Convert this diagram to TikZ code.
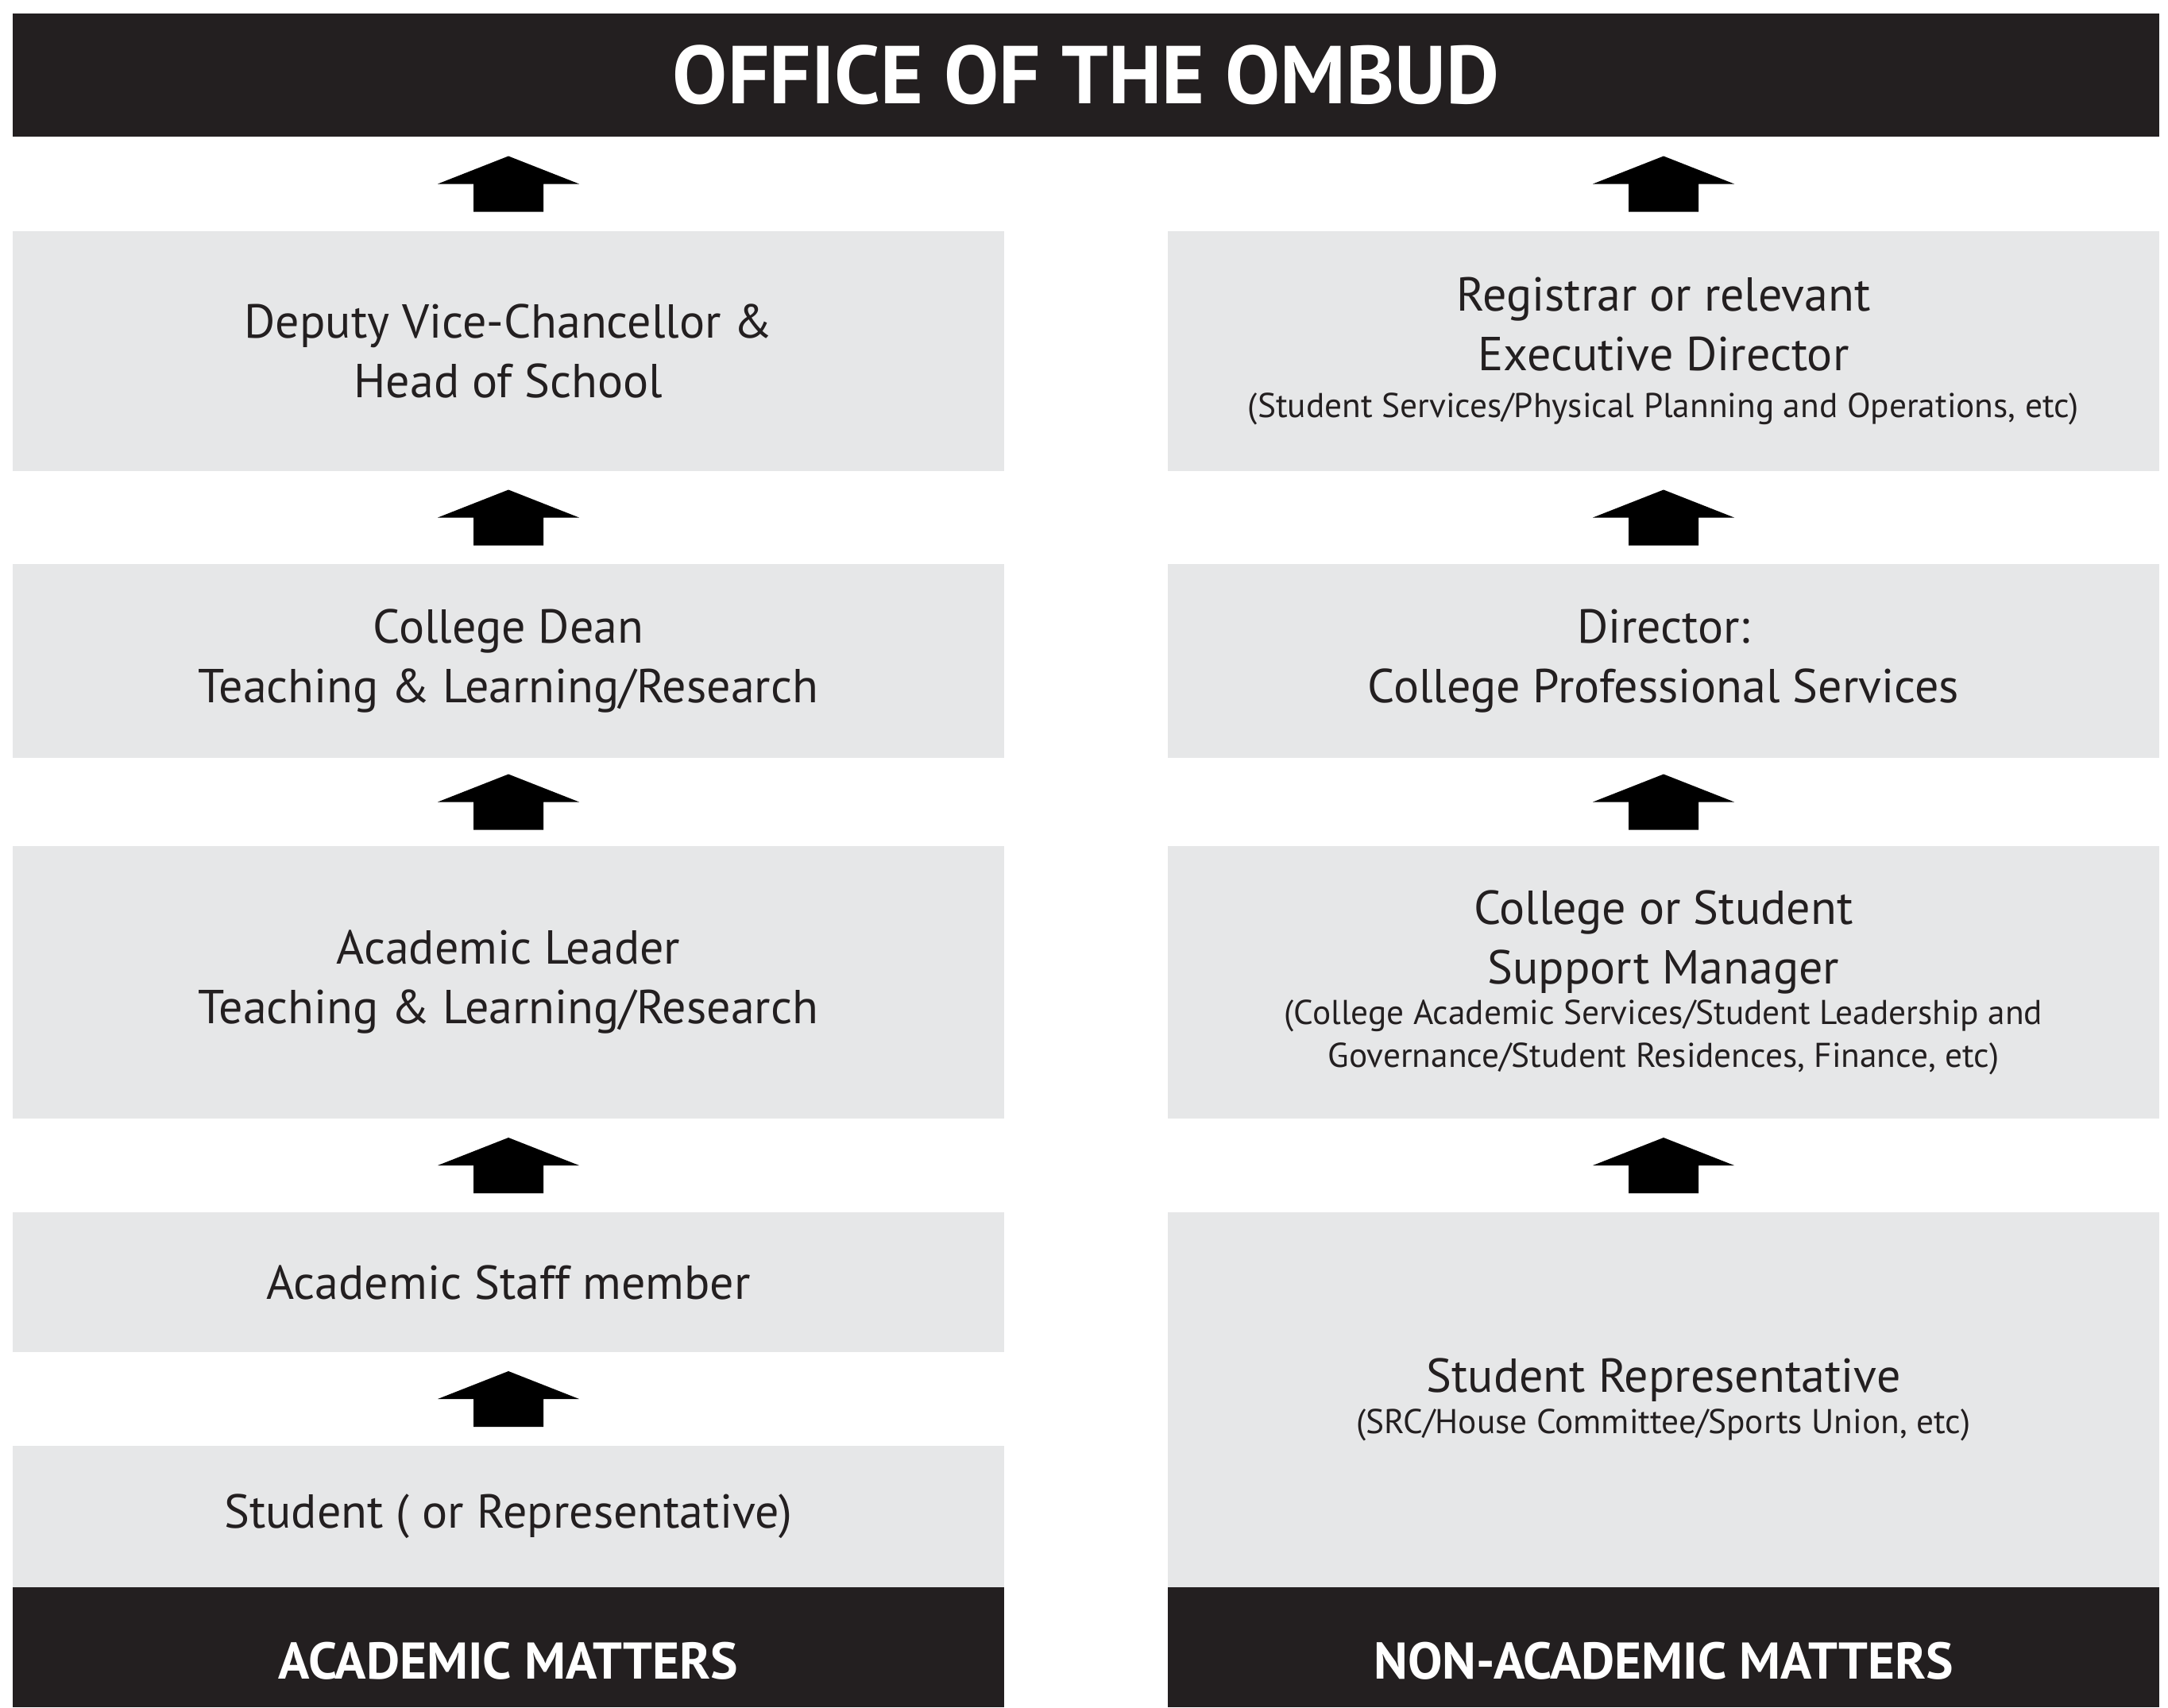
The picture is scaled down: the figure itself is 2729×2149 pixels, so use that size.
\documentclass[tikz,border=0pt]{standalone}
\usepackage{fontspec}
\setmainfont{PT Sans}
\usetikzlibrary{calc}

\definecolor{boxgrey}{HTML}{E6E7E8}
\definecolor{barblack}{HTML}{231F20}

\newcommand{\boxfont}{\fontsize{18}{22.5}\selectfont}
\newcommand{\notefont}{\fontsize{13}{16.2}\selectfont}

% block arrow half way between lower node #1 and upper node #2
\newcommand{\blockarrow}[2]{%
  \fill [arrowstyle] ($(#1.north)!0.5!(#1.north|-#2.south)$)
    ++(-44,35) -- ++(0,-35) -- ++(-45,0) -- ++(89,-35) -- ++(89,35)
    -- ++(-45,0) -- ++(0,35) -- cycle;}

\begin{document}
\begin{tikzpicture}
    [x=0.3pt,y=-0.3pt,
     boxstyle/.style={fill=boxgrey,inner sep=0pt,minimum width=374.4pt,
       align=center,text=barblack,font=\boxfont},
     barstyle/.style={fill=barblack,inner sep=0pt,minimum width=374.4pt,
       minimum height=45.3pt,text height=23.8pt,text depth=0pt,
       text=white,font=\fontsize{19.5}{24}\selectfont\bfseries},
     arrowstyle/.style={fill=black}]

    \useasboundingbox (0,0) rectangle (2729,2149);

    \node [fill=barblack,inner sep=0pt,minimum width=810.6pt,minimum height=46.5pt,
      text=white,font=\fontsize{31}{37}\selectfont\bfseries] (ombud) at (1367,94.5) {OFFICE OF THE OMBUD};

    % academic matters
    \node [boxstyle,minimum height=90.6pt] (l1) at (640,442) {Deputy Vice-Chancellor \&\\Head of School};
    \node [boxstyle,minimum height=73.2pt] (l2) at (640,832) {College Dean\\Teaching \& Learning/Research};
    \node [boxstyle,minimum height=102.9pt] (l3) at (640,1236.5) {Academic Leader\\Teaching \& Learning/Research};
    \node [boxstyle,minimum height=52.8pt] (l4) at (640,1614) {Academic Staff member};
    \node [boxstyle,minimum height=53.4pt] (l5) at (640,1909) {Student ( or Representative)};
    \node [barstyle] (lbar) at (640,2073.5) {ACADEMIC MATTERS};

    % non-academic matters
    \node [boxstyle,minimum height=90.6pt] (r1) at (2094,442)
      {Registrar or relevant\\Executive Director\\[-4.6pt]{\notefont(Student Services/Physical Planning and Operations, etc)}};
    \node [boxstyle,minimum height=73.2pt] (r2) at (2094,832) {Director:\\College Professional Services};
    \node [boxstyle,minimum height=102.9pt] (r3) at (2094,1236.5)
      {College or Student\\Support Manager\\[-7pt]{\notefont(College Academic Services/Student Leadership and}\\[-6.5pt]{\notefont Governance/Student Residences, Finance, etc)}};
    \node [boxstyle,minimum height=141.6pt] (r4) at (2094,1762)
      {Student Representative\\[-7pt]{\notefont(SRC/House Committee/Sports Union, etc)}};
    \node [barstyle] (rbar) at (2094,2073.5) {NON-ACADEMIC MATTERS};

    \blockarrow{l1}{ombud}
    \blockarrow{l2}{l1}
    \blockarrow{l3}{l2}
    \blockarrow{l4}{l3}
    \blockarrow{l5}{l4}
    \blockarrow{r1}{ombud}
    \blockarrow{r2}{r1}
    \blockarrow{r3}{r2}
    \blockarrow{r4}{r3}
\end{tikzpicture}
\end{document}
